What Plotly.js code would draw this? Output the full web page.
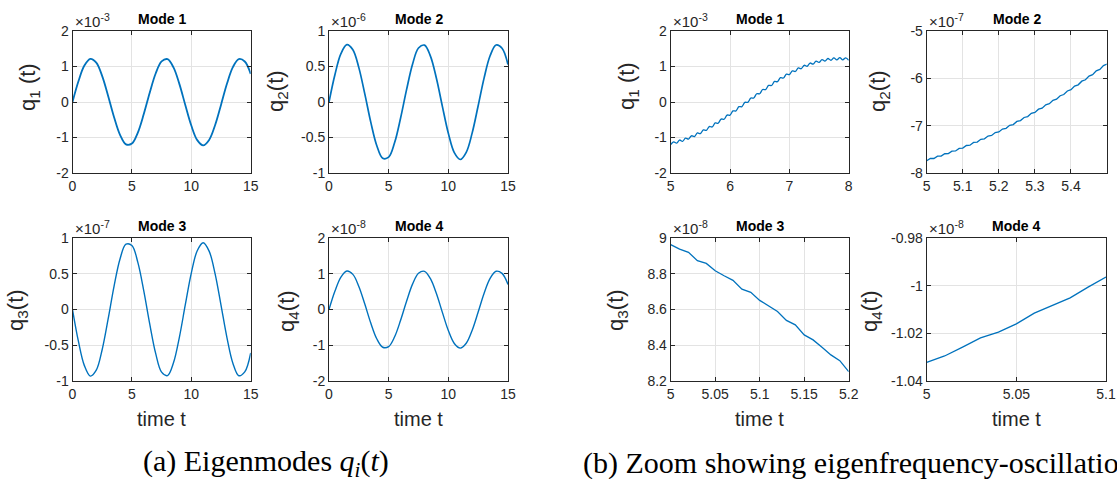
<!DOCTYPE html>
<html>
<head>
<meta charset="utf-8">
<script src="https://cdn.plot.ly/plotly-3.0.1.min.js"></script>
<style>
  html, body { margin: 0; padding: 0; background: #ffffff; }
  #chart { width: 1117px; height: 479px; }
</style>
</head>
<body>
<div id="chart"></div>
<script>
// ---------------- data ----------------
// full time history, t = 0 … 15
const tFull = [0,0.5,1,1.5,2,2.5,3,3.5,4,4.5,5,5.5,6,6.5,7,7.5,8,8.5,9,9.5,10,10.5,11,11.5,12,12.5,13,13.5,14,14.5,15];

// modal coordinates (in units of the axis multiplier shown above each panel)
const q1Full = [0,0.584,1.026,1.216,1.109,0.730,0.172,-0.428,-0.924,-1.193,-1.170,-0.861,-0.340,0.262,0.802,1.144,1.207,0.974,0.503,-0.092,-0.664,-1.074,-1.220,-1.068,-0.655,-0.081,0.512,0.981,1.209,1.141,0.793]; // ×1e-3
const q2Full = [0,0.388,0.681,0.808,0.736,0.484,0.114,-0.284,-0.613,-0.792,-0.777,-0.572,-0.226,0.174,0.532,0.760,0.801,0.646,0.334,-0.061,-0.441,-0.713,-0.810,-0.709,-0.435,-0.053,0.340,0.651,0.803,0.757,0.527]; // ×1e-6
const q3Full = [0,-0.447,-0.785,-0.931,-0.849,-0.559,-0.132,0.328,0.707,0.913,0.896,0.659,0.261,-0.201,-0.614,-0.876,-0.924,-0.745,-0.385,0.070,0.508,0.822,0.934,0.817,0.502,0.062,-0.392,-0.751,-0.926,-0.873,-0.607]; // ×1e-7
const q4Full = [0,0.517,0.908,1.077,0.982,0.646,0.152,-0.379,-0.818,-1.056,-1.036,-0.762,-0.301,0.232,0.710,1.013,1.068,0.862,0.445,-0.081,-0.588,-0.950,-1.080,-0.945,-0.580,-0.071,0.454,0.868,1.070,1.010,0.702]; // ×1e-8

// zoomed windows
const tZoom1 = [5,5.05,5.1,5.15,5.2,5.25,5.3,5.35,5.4,5.45,5.5,5.55,5.6,5.65,5.7,5.75,5.8,5.85,5.9,5.95,6,6.05,6.1,6.15,6.2,6.25,6.3,6.35,6.4,6.45,6.5,6.55,6.6,6.65,6.7,6.75,6.8,6.85,6.9,6.95,7,7.05,7.1,7.15,7.2,7.25,7.3,7.35,7.4,7.45,7.5,7.55,7.6,7.65,7.7,7.75,7.8,7.85,7.9,7.95,8];
const q1Zoom = [-1.200,-1.123,-1.159,-1.071,-1.108,-1.018,-1.045,-0.951,-0.973,-0.872,-0.891,-0.786,-0.800,-0.692,-0.702,-0.590,-0.597,-0.482,-0.486,-0.369,-0.371,-0.252,-0.252,-0.132,-0.131,-0.011,-0.010,0.111,0.112,0.233,0.232,0.352,0.350,0.467,0.464,0.579,0.573,0.685,0.676,0.784,0.772,0.877,0.859,0.960,0.938,1.034,1.007,1.098,1.066,1.152,1.114,1.194,1.151,1.225,1.176,1.243,1.188,1.250,1.189,1.244,1.177]; // ×1e-3

const tZoom2 = [5,5.01,5.02,5.03,5.04,5.05,5.06,5.07,5.08,5.09,5.1,5.11,5.12,5.13,5.14,5.15,5.16,5.17,5.18,5.19,5.2,5.21,5.22,5.23,5.24,5.25,5.26,5.27,5.28,5.29,5.3,5.31,5.32,5.33,5.34,5.35,5.36,5.37,5.38,5.39,5.4,5.41,5.42,5.43,5.44,5.45,5.46,5.47,5.48,5.49,5.5];
const q2Zoom = [-7.741,-7.694,-7.694,-7.645,-7.643,-7.593,-7.590,-7.538,-7.534,-7.480,-7.474,-7.419,-7.412,-7.355,-7.346,-7.289,-7.278,-7.219,-7.207,-7.146,-7.133,-7.071,-7.056,-6.992,-6.976,-6.911,-6.893,-6.827,-6.808,-6.740,-6.720,-6.651,-6.629,-6.559,-6.536,-6.464,-6.440,-6.367,-6.342,-6.267,-6.241,-6.165,-6.137,-6.060,-6.031,-5.953,-5.923,-5.843,-5.812,-5.732,-5.699]; // ×1e-7

const tZoom3 = [5,5.01,5.02,5.03,5.04,5.05,5.06,5.07,5.08,5.09,5.1,5.11,5.12,5.13,5.14,5.15,5.16,5.17,5.18,5.19,5.2];
const q3Zoom = [8.963,8.938,8.920,8.873,8.858,8.817,8.789,8.763,8.714,8.696,8.651,8.621,8.589,8.539,8.514,8.458,8.430,8.389,8.346,8.314,8.252]; // ×1e-8

const tZoom4 = [5,5.01,5.02,5.03,5.04,5.05,5.06,5.07,5.08,5.09,5.1];
const q4Zoom = [-1.0322,-1.0295,-1.0258,-1.0219,-1.0195,-1.0160,-1.0115,-1.0082,-1.0051,-1.0006,-0.9964]; // ×1e-8

// tick values and their labels
const ticksX15 = [0,5,10,15];            const labelsX15 = ['0','5','10','15'];
const ticksY2 = [-2,-1,0,1,2];           const labelsY2 = ['-2','-1','0','1','2'];
const ticksY1 = [-1,-0.5,0,0.5,1];       const labelsY1 = ['-1','-0.5','0','0.5','1'];
const ticksXz1 = [5,6,7,8];              const labelsXz1 = ['5','6','7','8'];
const ticksXz2 = [5,5.1,5.2,5.3,5.4];    const labelsXz2 = ['5','5.1','5.2','5.3','5.4'];
const ticksYz2 = [-8,-7,-6,-5];          const labelsYz2 = ['-8','-7','-6','-5'];
const ticksXz3 = [5,5.05,5.1,5.15,5.2];  const labelsXz3 = ['5','5.05','5.1','5.15','5.2'];
const ticksYz3 = [8.2,8.4,8.6,8.8,9];    const labelsYz3 = ['8.2','8.4','8.6','8.8','9'];
const ticksXz4 = [5,5.05,5.1];           const labelsXz4 = ['5','5.05','5.1'];
const ticksYz4 = [-1.04,-1.02,-1,-0.98]; const labelsYz4 = ['-1.04','-1.02','-1','-0.98'];

const modeTitles = ['Mode 1','Mode 2','Mode 3','Mode 4'];
const exponents = ['-3','-6','-7','-8','-3','-7','-8','-8'];

// ---------------- layout helpers ----------------
const W = 1117, H = 479;
const fx = v => v / W;        // pixel column → paper x
const fy = v => 1 - v / H;    // pixel row → paper y

const SANS = 'Liberation Sans, Arial, Helvetica, sans-serif';
const INK = '#262626';
const LINE = '#0072BD';

// panel geometry (pixel boxes) and label placement
const panels = [
  { box:[72.5,250.7,31,173],  x:tFull,  y:q1Full, xr:[0,15],    yr:[-2,2],       tx:[ticksX15,labelsX15], ty:[ticksY2,labelsY2],  title:modeTitles[0], ylab:'q<sub>1</sub> (t)', lab:[29,87],   xlab:false, shape:'spline', w:1.8 },
  { box:[329,508,31,173],     x:tFull,  y:q2Full, xr:[0,15],    yr:[-1,1],       tx:[ticksX15,labelsX15], ty:[ticksY1,labelsY1],  title:modeTitles[1], ylab:'q<sub>2</sub>(t)',  lab:[277,91],  xlab:false, shape:'spline', w:1.7 },
  { box:[72.5,250.7,238,381], x:tFull,  y:q3Full, xr:[0,15],    yr:[-1,1],       tx:[ticksX15,labelsX15], ty:[ticksY1,labelsY1],  title:modeTitles[2], ylab:'q<sub>3</sub>(t)',  lab:[17,310],  xlab:true,  shape:'spline', w:1.4 },
  { box:[329,508,238,381],    x:tFull,  y:q4Full, xr:[0,15],    yr:[-2,2],       tx:[ticksX15,labelsX15], ty:[ticksY2,labelsY2],  title:modeTitles[3], ylab:'q<sub>4</sub>(t)',  lab:[288,311], xlab:true,  shape:'spline', w:1.4 },
  { box:[670.7,848.7,31,173], x:tZoom1, y:q1Zoom, xr:[5,8],     yr:[-2,2],       tx:[ticksXz1,labelsXz1], ty:[ticksY2,labelsY2],  title:modeTitles[0], ylab:'q<sub>1</sub> (t)', lab:[628,86],  xlab:false, shape:'spline', w:1.3 },
  { box:[926.7,1106.7,31,173],x:tZoom2, y:q2Zoom, xr:[5,5.499], yr:[-8,-5],      tx:[ticksXz2,labelsXz2], ty:[ticksYz2,labelsYz2],title:modeTitles[1], ylab:'q<sub>2</sub>(t)',  lab:[879,91],  xlab:false, shape:'linear', w:1.3 },
  { box:[670.7,848.7,238,381],x:tZoom3, y:q3Zoom, xr:[5,5.2],   yr:[8.2,9],      tx:[ticksXz3,labelsXz3], ty:[ticksYz3,labelsYz3],title:modeTitles[2], ylab:'q<sub>3</sub>(t)',  lab:[617,310], xlab:true,  shape:'linear', w:1.3 },
  { box:[926.7,1106,238,381], x:tZoom4, y:q4Zoom, xr:[5,5.1],   yr:[-1.04,-0.98],tx:[ticksXz4,labelsXz4], ty:[ticksYz4,labelsYz4],title:modeTitles[3], ylab:'q<sub>4</sub>(t)',  lab:[871,311], xlab:true,  shape:'linear', w:1.3 }
];

const traces = [];
const annotations = [];
const layout = {
  width: W, height: H,
  margin: { l:0, r:0, t:0, b:0, pad:0 },
  paper_bgcolor: '#ffffff',
  plot_bgcolor: '#ffffff',
  showlegend: false,
  font: { family: SANS, color: INK }
};

function axisBase(ticks) {
  return {
    tickmode: 'array', tickvals: ticks[0], ticktext: ticks[1],
    ticks: 'inside', ticklen: 4, tickwidth: 1, tickcolor: INK,
    mirror: 'allticks', showline: true, linecolor: INK, linewidth: 1,
    showgrid: true, gridcolor: '#e3e3e3', gridwidth: 1,
    zeroline: false, fixedrange: true,
    tickfont: { family: SANS, size: 14, color: INK }
  };
}

panels.forEach((p, i) => {
  const s = i === 0 ? '' : String(i + 1);
  traces.push({
    x: p.x, y: p.y, type: 'scatter', mode: 'lines',
    xaxis: 'x' + s, yaxis: 'y' + s,
    line: { color: LINE, width: p.w, shape: p.shape, smoothing: 1 },
    hoverinfo: 'skip'
  });

  const [l, r, t, b] = p.box;
  layout['xaxis' + s] = Object.assign(axisBase(p.tx), {
    domain: [fx(l), fx(r)], range: p.xr, anchor: 'y' + s
  });
  layout['yaxis' + s] = Object.assign(axisBase(p.ty), {
    domain: [fy(b), fy(t)], range: p.yr, anchor: 'x' + s
  });

  // panel title
  annotations.push({
    xref: 'paper', yref: 'paper', x: fx((l + r) / 2), y: fy(t),
    xanchor: 'center', yanchor: 'bottom', yshift: 2, showarrow: false,
    text: '<b>' + p.title + '</b>',
    font: { family: SANS, size: 14, color: '#000000' }
  });
  // axis multiplier
  annotations.push({
    xref: 'paper', yref: 'paper', x: fx(l), y: fy(t),
    xanchor: 'left', yanchor: 'bottom', yshift: -1, showarrow: false,
    text: '×10<sup>' + exponents[i] + '</sup>',
    font: { family: SANS, size: 15, color: INK }
  });
  // y label
  annotations.push({
    xref: 'paper', yref: 'paper', x: fx(p.lab[0]), y: fy(p.lab[1]),
    xanchor: 'center', yanchor: 'middle', textangle: -90, showarrow: false,
    text: p.ylab,
    font: { family: SANS, size: 22, color: INK }
  });
  // x label
  if (p.xlab) {
    annotations.push({
      xref: 'paper', yref: 'paper', x: fx((l + r) / 2), y: fy(419),
      xanchor: 'center', yanchor: 'middle', showarrow: false,
      text: 'time t',
      font: { family: SANS, size: 20, color: INK }
    });
  }
});

// sub-figure captions
const SERIF = 'Liberation Serif, Times New Roman, serif';
annotations.push({
  xref: 'paper', yref: 'paper', x: fx(141), y: fy(463),
  xanchor: 'left', yanchor: 'middle', showarrow: false,
  text: '(a) Eigenmodes <i>q<sub>i</sub></i>(<i>t</i>)',
  font: { family: SERIF, size: 30, color: '#000000' }
});
annotations.push({
  xref: 'paper', yref: 'paper', x: fx(581), y: fy(463),
  xanchor: 'left', yanchor: 'middle', showarrow: false,
  text: '(b) Zoom showing eigenfrequency-oscillations',
  font: { family: SERIF, size: 30, color: '#000000' }
});

layout.annotations = annotations;

Plotly.newPlot('chart', traces, layout, { staticPlot: true, displayModeBar: false });
</script>
</body>
</html>
